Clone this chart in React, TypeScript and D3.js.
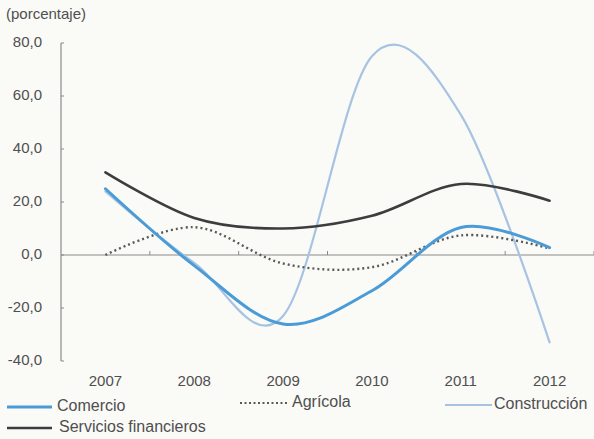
import React from "react";
import * as d3 from "d3";

const years = ["2007", "2008", "2009", "2010", "2011", "2012"];
const comercio = [25, -4, -26, -13.5, 10.4, 2.8];
const agricola = [0, 10.5, -3.2, -4.6, 7.4, 2.5];
const construccion = [24, -3, -23, 75, 53, -33];
const servicios = [31.2, 14, 10, 14.8, 26.8, 20.5];
const yTicks = [-40, -20, 0, 20, 40, 60, 80];

const W = 594;
const H = 439;
const FONT = "'Liberation Sans', Arial, sans-serif";
const TXT = "#4f4f4f";

export default function App() {
  const x = d3.scaleBand().domain(years).range([61, 594]);
  const y = d3.scaleLinear().domain([-40, 80]).range([361, 43]);
  const cx = (d: string) => (x(d) as number) + x.bandwidth() / 2;

  const line = (vals: number[]) =>
    d3
      .line<number>()
      .x((_, i) => cx(years[i]))
      .y((v) => y(v))
      .curve(d3.curveCardinal.tension(0))(vals) as string;

  const series = [
    { name: "Construcción", vals: construccion, color: "#a6c4e2", w: 2.2, dash: undefined as string | undefined },
    { name: "Servicios financieros", vals: servicios, color: "#3d3d3d", w: 2.6, dash: undefined },
    { name: "Agrícola", vals: agricola, color: "#5a5a5a", w: 2.4, dash: "2,3" },
    { name: "Comercio", vals: comercio, color: "#4a9bd6", w: 3, dash: undefined },
  ];

  const bandEdges = years.map((d) => (x(d) as number) + x.bandwidth());

  const legend = [
    { name: "Comercio", color: "#4a9bd6", w: 3, dash: undefined as string | undefined, x1: 7, x2: 52, ly: 407, tx: 57 },
    { name: "Agrícola", color: "#5a5a5a", w: 2, dash: "2,2.5", x1: 240, x2: 287, ly: 403, tx: 292 },
    { name: "Construcción", color: "#a6c4e2", w: 2.2, dash: undefined, x1: 445, x2: 492, ly: 405, tx: 494 },
    { name: "Servicios financieros", color: "#3d3d3d", w: 2.6, dash: undefined, x1: 7, x2: 52, ly: 428, tx: 59 },
  ];

  return (
    <svg
      width={W}
      height={H}
      style={{ position: "absolute", left: 0, top: 0, background: "#fafaf7" }}
      fontFamily={FONT}
    >
      <rect width={W} height={H} fill="#fafaf7" />
      <text x={6} y={15} fontSize={15} fill={TXT} dominantBaseline="middle">
        (porcentaje)
      </text>

      {/* y axis */}
      <line x1={61} x2={61} y1={y(80)} y2={y(-40)} stroke="#8a8a8a" strokeWidth={1.2} />
      {yTicks.map((t) => (
        <g key={t}>
          <line x1={61} x2={64} y1={y(t)} y2={y(t)} stroke="#8a8a8a" strokeWidth={1} />
          <text
            x={42}
            y={y(t)}
            fontSize={15}
            fill={TXT}
            textAnchor="end"
            dominantBaseline="middle"
          >
            {t.toFixed(1).replace(".", ",")}
          </text>
        </g>
      ))}

      {/* x axis at zero */}
      <line x1={61} x2={594} y1={y(0)} y2={y(0)} stroke="#8a8a8a" strokeWidth={1.2} />
      {bandEdges.map((e, i) => (
        <line key={i} x1={e} x2={e} y1={y(0)} y2={y(0) - 4} stroke="#8a8a8a" strokeWidth={1} />
      ))}
      {years.map((d) => (
        <text
          key={d}
          x={cx(d)}
          y={382}
          fontSize={15}
          fill={TXT}
          textAnchor="middle"
          dominantBaseline="middle"
        >
          {d}
        </text>
      ))}

      {series.map((s) => (
        <path
          key={s.name}
          d={line(s.vals)}
          fill="none"
          stroke={s.color}
          strokeWidth={s.w}
          strokeDasharray={s.dash}
          strokeLinecap={s.dash ? "butt" : "round"}
        />
      ))}

      {legend.map((l) => (
        <g key={l.name}>
          <line
            x1={l.x1}
            x2={l.x2}
            y1={l.ly}
            y2={l.ly}
            stroke={l.color}
            strokeWidth={l.w}
            strokeDasharray={l.dash}
          />
          <text x={l.tx} y={l.ly} fontSize={16} fill={TXT} dominantBaseline="middle">
            {l.name}
          </text>
        </g>
      ))}
    </svg>
  );
}
